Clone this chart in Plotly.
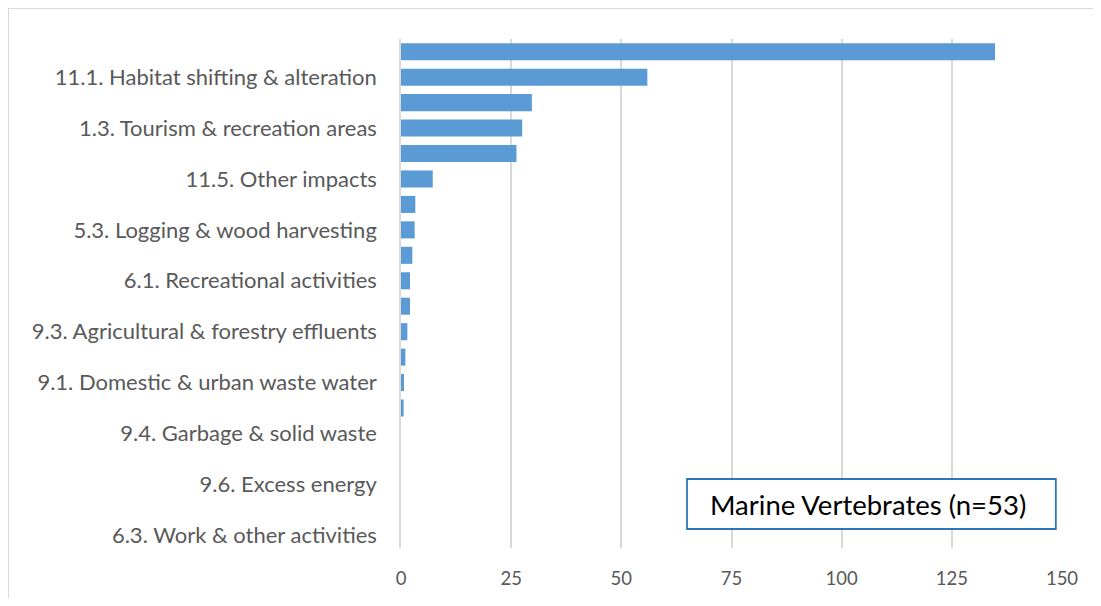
import plotly.graph_objects as go

# threat categories, ordered top to bottom (only every other label is shown on the axis)
categories = [
    "5.4. Fishing & harvesting aquatic resources",
    "11.1. Habitat shifting & alteration",
    "1.1. Housing & urban areas",
    "1.3. Tourism & recreation areas",
    "4.3. Shipping lanes",
    "11.5. Other impacts",
    "11.3. Temperature extremes",
    "5.3. Logging & wood harvesting",
    "7.3. Other ecosystem modifications",
    "6.1. Recreational activities",
    "8.1. Invasive non-native species",
    "9.3. Agricultural & forestry effluents",
    "9.2. Industrial & military effluents",
    "9.1. Domestic & urban waste water",
    "3.1. Oil & gas drilling",
    "9.4. Garbage & solid waste",
    "11.4. Storms & flooding",
    "9.6. Excess energy",
    "2.4. Marine & freshwater aquaculture",
    "6.3. Work & other activities",
]
values = [134.8, 55.9, 29.7, 27.5, 26.2, 7.2, 3.25, 3.1, 2.57, 2.04,
          2.04, 1.44, 0.99, 0.68, 0.6, 0, 0, 0, 0, 0]
shown_labels = categories[1::2]
x_ticks = [0, 25, 50, 75, 100, 125, 150]

fig = go.Figure(go.Bar(
    x=values, y=categories, orientation="h",
    marker=dict(color="#5B9BD5", line=dict(width=0)),
    width=0.67,
))

fig.update_layout(
    width=1085, height=590,
    margin=dict(l=393, r=31, t=31, b=50),
    paper_bgcolor="white", plot_bgcolor="white",
    font=dict(family="Lato", size=22, color="#595959"),
    showlegend=False,
    xaxis=dict(range=[0, 150], tickvals=x_ticks, showgrid=True,
               gridcolor="#D9D9D9", gridwidth=1.5, zeroline=False,
               ticks="", showline=False, automargin=False,
               tickfont=dict(size=18.5), ticklabelstandoff=17),
    yaxis=dict(categoryorder="array", categoryarray=categories,
               autorange="reversed", tickmode="array",
               tickvals=shown_labels, ticktext=shown_labels,
               showline=True, linecolor="#D9D9D9", linewidth=1.5,
               ticks="", ticklabelstandoff=18, automargin=False),
)

# outer chart border (top and left edges visible)
fig.add_shape(type="line", xref="paper", yref="paper",
              x0=-393/661, x1=700/661, y0=1 + 31/509, y1=1 + 31/509,
              line=dict(color="#D9D9D9", width=2))
fig.add_shape(type="line", xref="paper", yref="paper",
              x0=-393/661, x1=-393/661, y0=-50/509, y1=1 + 31/509,
              line=dict(color="#D9D9D9", width=2))

# legend-like text box
fig.add_shape(type="rect", xref="x", yref="paper",
              x0=64.9, x1=148.6, y0=0.0373, y1=0.1356,
              line=dict(color="#2E75B6", width=1.8), fillcolor="white",
              layer="above")
fig.add_annotation(
    xref="x", yref="paper", x=69.7, y=0.0864,
    xanchor="left", yanchor="middle",
    text="Marine Vertebrates (n=53)", showarrow=False,
    font=dict(family="Lato", size=27.5, color="black"),
)

fig.write_html("out.html")
